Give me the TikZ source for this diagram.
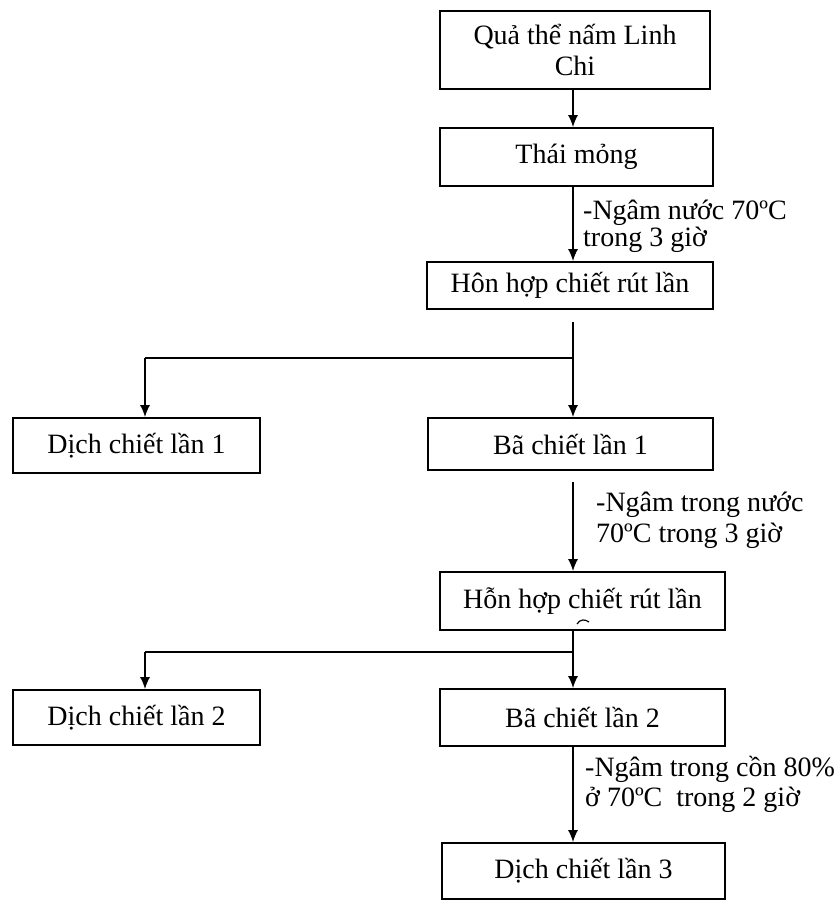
\documentclass[tikz,border=0pt]{standalone}
\usepackage{fontspec}
\setmainfont{Liberation Serif}
\usetikzlibrary{arrows.meta}
\begin{document}
\begin{tikzpicture}[x=1pt,y=-1pt,
  box/.style={draw, line width=1.8pt, inner sep=0pt, align=center, font=\fontsize{28}{31}\selectfont},
  lbl/.style={anchor=base west, inner sep=0pt, align=left},
  arr/.style={line width=1.4pt, -{Latex[length=12pt,width=10pt]}},
  ln/.style={line width=1.4pt}]
\useasboundingbox (0,0) rectangle (839,900);
\node[box, minimum width=270pt, minimum height=78pt] (q) at (575,50) {Quả thể nấm Linh\\Chi};
\node[box, minimum width=273pt, minimum height=58pt] (t) at (576.5,157) {Thái mỏng};
\node[box, minimum width=286pt, minimum height=47pt] (h1) at (570,285.5) {Hôn hợp chiết rút lần};
\node[box, minimum width=247pt, minimum height=55pt] (d1) at (136.5,445.5) {Dịch chiết lần 1};
\node[box, minimum width=285pt, minimum height=52pt] (b1) at (570.5,444) {Bã chiết lần 1};
\node[box, minimum width=285pt, minimum height=58pt] (h2) at (582.5,601) {Hỗn hợp chiết rút lần};
\node[box, minimum width=247pt, minimum height=55pt] (d2) at (136.5,717.5) {Dịch chiết lần 2};
\node[box, minimum width=285pt, minimum height=57pt] (b2) at (582.5,717.5) {Bã chiết lần 2};
\node[box, minimum width=283pt, minimum height=56pt] (d3) at (583.5,871) {Dịch chiết lần 3};

\coordinate (c0) at (573,0);
\coordinate (s1) at (573,322);
\coordinate (j1) at (573,358);
\coordinate (l1) at (145,358);
\coordinate (s2) at (573,482);
\coordinate (j2) at (573,652);
\coordinate (l2) at (145,652);

\draw[arr] (c0 |- q.south) -- (c0 |- t.north);
\draw[arr] (c0 |- t.south) -- (c0 |- h1.north);
\draw[ln] (s1) -- (j1);
\draw[arr] (j1) -- (j1 |- b1.north);
\draw[ln] (j1) -- (l1);
\draw[arr] (l1) -- (l1 |- d1.north);
\draw[arr] (s2) -- (s2 |- h2.north);
\draw[ln] (c0 |- h2.south) -- (j2);
\draw[arr] (j2) -- (j2 |- b2.north);
\draw[ln] (j2) -- (l2);
\draw[arr] (l2) -- (l2 |- d2.north);
\draw[arr] (c0 |- b2.south) -- (c0 |- d3.north);

% clipped glyph fragment under "chiết" in the second mixture box
\draw[line width=1.2pt] (577,624) .. controls (580,619) and (585,619) .. (589,622);

\node[lbl, font=\fontsize{28}{27}\selectfont] (n1) at (583,246) {-Ngâm nước 70ºC\\trong 3 giờ};
\node[lbl, font=\fontsize{28}{31}\selectfont] (n2) at (596,542) {-Ngâm trong nước\\70ºC trong 3 giờ};
\node[lbl, font=\fontsize{28}{30}\selectfont] (n3) at (585,806) {-Ngâm trong cồn 80\%\\ở 70ºC\ \ trong 2 giờ};
\end{tikzpicture}
\end{document}
